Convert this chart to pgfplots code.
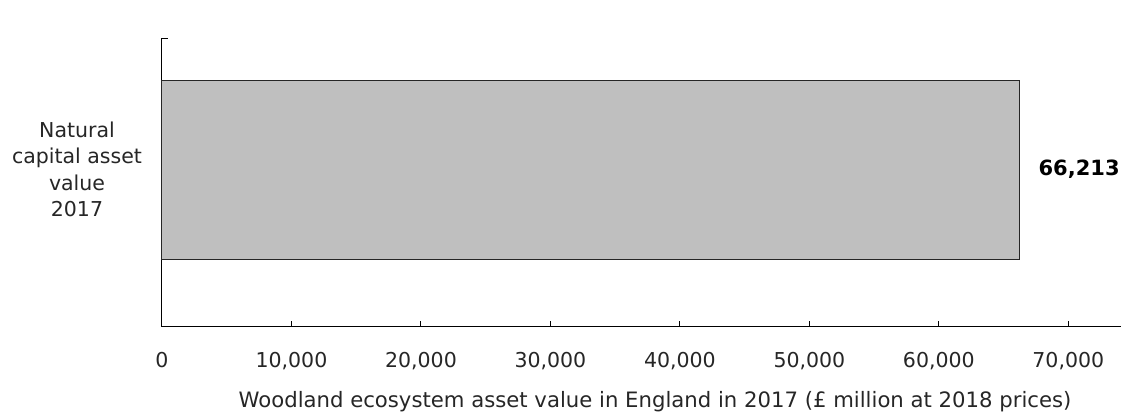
\documentclass[border=0pt]{standalone}
\usepackage{fontspec}
\setmainfont{DejaVu Sans}
\usepackage{pgfplots}
\pgfplotsset{compat=1.18}
\begin{document}
\fontsize{20.5pt}{26.5pt}\selectfont
\begin{tikzpicture}
\useasboundingbox (-162pt,-87pt) rectangle (959pt,327pt);
\begin{axis}[
  at={(0pt,0pt)}, anchor=south west,
  scale only axis, width=959pt, height=289pt,
  xbar, bar width=1,
  xmin=0, xmax=74070, ymin=-0.88, ymax=0.735,
  axis x line*=bottom, axis y line*=left,
  axis line style={black, line width=1pt, -},
  every tick label/.append style={font=\fontsize{20.5pt}{26.5pt}\selectfont, text=black!85},
  /pgf/number format/assume math mode=true,
  /pgf/number format/1000 sep={,},
  scaled x ticks=false,
  xtick={10000,20000,...,70000},
  extra x ticks={0}, extra x tick style={xtick style={draw=none}},
  tick align=inside,
  major tick length=6pt,
  xtick style={black, line width=1pt},
  xticklabel style={yshift=-18pt},
  ytick={0}, yticklabels={{Natural\\capital asset\\value\\2017}},
  ytick style={draw=none},
  yticklabel style={align=center, xshift=-13pt},
  extra y ticks={0.735}, extra y tick labels={},
  extra y tick style={ytick style={draw=black, line width=1pt}},
  xlabel={Woodland ecosystem asset value in England in 2017 (\pounds{} million at 2018 prices)},
  xlabel style={at={(axis description cs:0.5,0)}, anchor=north, yshift=-57pt, xshift=13.5pt, font=\fontsize{21.2pt}{26.5pt}\selectfont, text=black!85},
  nodes near coords,
  every node near coord/.append style={font=\fontsize{21pt}{26.5pt}\selectfont\bfseries, anchor=west, xshift=12pt, text=black},
  clip=false,
]
\addplot[fill=black!25, draw=black!85, line width=1pt] coordinates {(66213,0)};
\end{axis}
\end{tikzpicture}
\end{document}
